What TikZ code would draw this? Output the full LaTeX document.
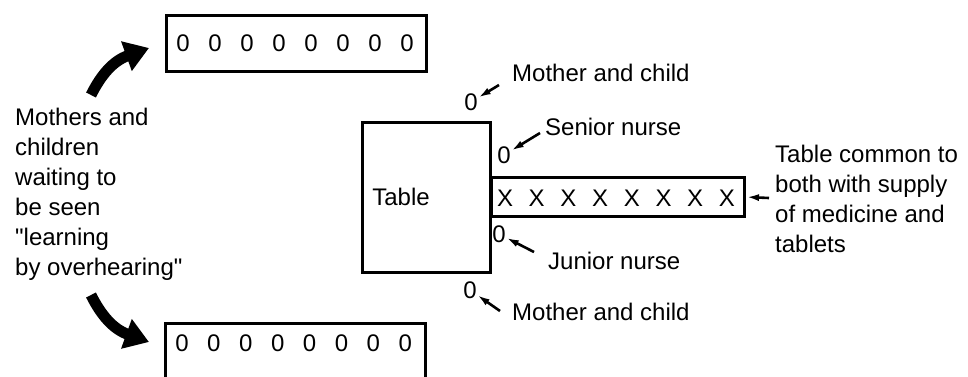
\documentclass[tikz,border=0pt]{standalone}
\usepackage{fontspec}
\setmainfont{Liberation Sans}[Ligatures=TeXOff]
\usetikzlibrary{arrows.meta}

\tikzset{
  lbl/.style={font=\fontsize{24}{30}\selectfont, inner sep=0pt},
  seat/.style={font=\fontsize{24}{30}\selectfont, inner sep=0pt},
  bench/.style={draw, line width=3pt},
  pointer/.style={line width=2.6pt, -{Latex[length=13pt,width=7pt]}},
  bigarrow/.style={line width=11pt, -{Triangle[length=24pt,width=30pt]}},
}

\begin{document}
\begin{tikzpicture}[x=1pt,y=-1pt]
\clip (0,0) rectangle (968,376);
\fill[white] (0,0) rectangle (968,376);

% waiting benches
\draw[bench] (166,15) rectangle (426,71);
\draw[bench] (165,323) rectangle (425,400);
\foreach \i in {0,...,7} {
  \node[seat] (top\i) at ({183+\i*32},43) {0};
  \node[seat] (bot\i) at ({182+\i*31.9},343) {0};
}

% curved arrows towards the benches
\draw[bigarrow] (91,95) .. controls (101,75) and (113,61) .. (149,48);
\draw[bigarrow] (91,295) .. controls (101,315) and (113,329) .. (149,342);

% left caption
\node[lbl, anchor=north west, align=left] (waiting) at (15,108)
  {Mothers and\\children\\waiting to\\be seen\\"learning\\by overhearing"};

% consultation table and shared supply table
\node[draw, line width=3pt, minimum width=128pt, minimum height=150pt, inner sep=0pt] (table) at (426,197) {};
\node[lbl] (tabletext) at (401,197) {Table};
\node[draw, line width=3pt, minimum width=253pt, minimum height=39pt, inner sep=0pt, anchor=west] (strip) at (490,197) {};
\foreach \i in {0,...,7} {
  \node[seat] (x\i) at ({505+\i*31.7},198) {X};
}

% people around the table
\node[seat] (mc1) at (471,102) {0};
\node[seat] (sn) at (504,155) {0};
\node[seat] (jn) at (499,234) {0};
\node[seat] (mc2) at (470,290) {0};

\node[lbl, anchor=west] (mc1lab) at (512,73) {Mother and child};
\node[lbl, anchor=west] (snlab) at (545,127) {Senior nurse};
\node[lbl, anchor=west] (jnlab) at (548,261) {Junior nurse};
\node[lbl, anchor=west] (mc2lab) at (512,312) {Mother and child};

\coordinate (mc1a) at (499,85);
\coordinate (sna) at (540,133);
\coordinate (jna) at (534,252);
\coordinate (mc2a) at (500,311);
\draw[pointer] (mc1a) -- (mc1);
\draw[pointer] (sna) -- (sn);
\draw[pointer] (jna) -- (jn);
\draw[pointer] (mc2a) -- (mc2);

% caption of the shared table
\node[lbl, anchor=north west, align=left] (common) at (775,145)
  {Table common to\\both with supply\\of medicine and\\tablets};
\coordinate (commona) at (769,198);
\draw[pointer] (commona) -- (strip.east);
\end{tikzpicture}
\end{document}
